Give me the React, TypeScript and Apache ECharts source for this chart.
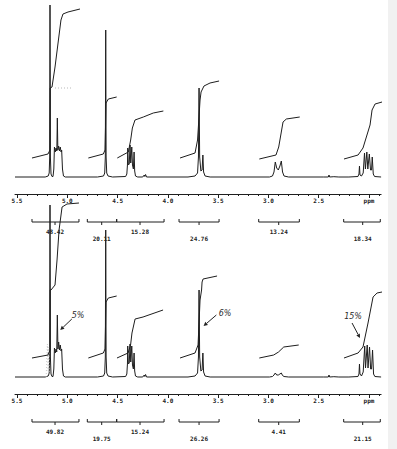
import React, { useEffect, useRef } from "react";
import * as echarts from "echarts";

// ---- axis ----
const majorTicks = [5.5, 5.0, 4.5, 4.0, 3.5, 3.0, 2.5, 2.0];
const tickLabels = ["5.5", "5.0", "4.5", "4.0", "3.5", "3.0", "2.5", "ppm"];
const minorTicks = [
  5.4, 5.3, 5.2, 5.1, 4.9, 4.8, 4.7, 4.6, 4.4, 4.3, 4.2, 4.1, 3.9, 3.8, 3.7, 3.6,
  3.4, 3.3, 3.2, 3.1, 2.9, 2.8, 2.7, 2.6, 2.4, 2.3, 2.2, 2.1, 1.9,
];

// ---- spectra [ppm, intensity] ----
const topSpectrum = [
  [5.52, 0], [5.22, 0], [5.19, 1], [5.18, 4], [5.175, 20], [5.172, 172], [5.168, 20], [5.162, 3], [5.152, 0.5],
  [5.142, 0.5], [5.134, 8], [5.128, 30], [5.12, 25], [5.112, 29], [5.104, 26], [5.099, 59], [5.094, 27],
  [5.086, 31], [5.078, 26], [5.07, 30], [5.062, 25], [5.056, 27], [5.048, 8], [5.038, 1], [5.02, 0],
  [4.7, 0], [4.64, 1], [4.628, 4], [4.622, 20], [4.618, 147], [4.614, 20], [4.608, 4], [4.595, 1], [4.55, 0],
  [4.42, 0.5], [4.408, 3], [4.402, 12], [4.399, 29], [4.393, 12], [4.384, 13], [4.376, 32], [4.369, 14],
  [4.364, 14], [4.359, 30], [4.352, 12], [4.343, 8], [4.336, 25], [4.33, 6], [4.322, 1], [4.3, 0],
  [4.25, 0], [4.235, 2], [4.229, 0.5], [4.222, 2.5], [4.212, 0],
  [3.8, 0], [3.73, 1], [3.705, 4], [3.696, 20], [3.69, 89], [3.684, 20], [3.672, 6], [3.66, 7], [3.652, 22],
  [3.645, 5], [3.63, 1], [3.58, 0],
  [2.99, 0], [2.96, 1], [2.945, 5], [2.932, 15], [2.918, 9], [2.902, 7], [2.886, 11], [2.872, 16], [2.86, 5],
  [2.845, 1], [2.8, 0],
  [2.45, 0], [2.405, 0], [2.398, 2], [2.392, 0], [2.35, 0.3], [2.3, 0],
  [2.2, 0], [2.11, 0.5], [2.1, 3], [2.095, 11], [2.09, 2], [2.075, 1], [2.058, 4], [2.045, 24], [2.036, 8],
  [2.03, 8], [2.022, 25], [2.012, 8], [2.005, 8], [1.997, 23], [1.985, 7], [1.975, 7], [1.968, 20],
  [1.958, 3], [1.945, 0.5], [1.88, 0],
];
const bottomSpectrum = [
  [5.52, 0], [5.22, 0], [5.19, 1], [5.18, 4], [5.175, 20], [5.172, 172], [5.168, 20], [5.162, 3], [5.152, 0.5],
  [5.142, 0.5], [5.134, 8], [5.128, 29], [5.12, 24], [5.112, 28], [5.105, 25], [5.099, 62], [5.093, 28],
  [5.086, 35], [5.078, 27], [5.07, 32], [5.062, 26], [5.056, 28], [5.048, 8], [5.038, 1], [5.02, 0],
  [4.7, 0], [4.64, 1], [4.628, 4], [4.622, 20], [4.618, 147], [4.614, 20], [4.608, 4], [4.595, 1], [4.55, 0],
  [4.42, 0.5], [4.408, 3], [4.402, 13], [4.399, 31], [4.393, 13], [4.384, 14], [4.376, 33], [4.369, 15],
  [4.364, 15], [4.359, 31], [4.352, 12], [4.343, 8], [4.336, 24], [4.33, 6], [4.322, 1], [4.3, 0],
  [4.25, 0], [4.235, 2], [4.229, 0.5], [4.222, 2.5], [4.212, 0],
  [3.8, 0], [3.73, 1], [3.705, 4], [3.696, 20], [3.69, 87], [3.684, 20], [3.672, 6], [3.66, 7], [3.652, 24],
  [3.645, 5], [3.63, 1], [3.58, 0],
  [2.99, 0], [2.96, 0.5], [2.945, 2], [2.932, 4], [2.918, 2], [2.902, 2], [2.886, 3], [2.872, 4], [2.86, 1.5],
  [2.845, 0.5], [2.8, 0],
  [2.45, 0], [2.405, 0], [2.398, 2], [2.392, 0], [2.35, 0.3], [2.3, 0],
  [2.2, 0], [2.11, 0.5], [2.1, 3], [2.095, 13], [2.09, 3], [2.075, 1], [2.058, 5], [2.043, 31], [2.035, 9],
  [2.028, 9], [2.018, 32], [2.01, 9], [2.003, 9], [1.995, 30], [1.984, 8], [1.975, 8], [1.965, 27],
  [1.955, 3], [1.942, 0.5], [1.88, 0],
];
// faint pencilled peak outline next to the tall singlet (bottom)
const bottomShadow = [[5.21, 0], [5.198, 33], [5.19, 6], [5.184, 30], [5.178, 0]];
// faint dotted reference line on the first integral (top)
const topDottedRef = [[5.122, 89], [4.963, 89]];

// ---- integral curves [ppm, height] ----
const topIntegrals = [
  [[5.351, 19], [5.192, 23], [5.172, 27], [5.17, 89], [5.152, 90], [5.122, 110], [5.092, 134], [5.063, 157], [5.043, 163], [4.993, 165], [4.874, 168]],
  [[4.791, 19], [4.642, 23], [4.625, 27], [4.615, 74], [4.592, 78], [4.509, 80]],
  [[4.503, 19], [4.393, 25], [4.37, 37], [4.353, 49], [4.327, 57], [4.244, 60], [4.145, 64], [4.045, 66]],
  [[3.879, 19], [3.73, 24], [3.705, 37], [3.68, 77], [3.67, 85], [3.641, 91], [3.581, 94], [3.491, 96]],
  [[3.091, 18], [2.925, 22], [2.898, 30], [2.855, 55], [2.822, 58], [2.689, 60]],
  [[2.249, 18], [2.109, 22], [2.06, 29], [1.99, 52], [1.97, 67], [1.94, 73], [1.871, 75]],
];
const bottomIntegrals = [
  [[5.351, 19], [5.192, 22], [5.172, 27], [5.17, 87], [5.162, 87], [5.122, 92], [5.102, 117], [5.082, 147], [5.052, 170], [5.003, 173], [4.884, 174]],
  [[4.791, 19], [4.642, 24], [4.625, 28], [4.615, 75], [4.592, 79], [4.509, 81]],
  [[4.506, 19], [4.396, 24], [4.371, 32], [4.357, 44], [4.326, 58], [4.247, 60], [4.048, 67]],
  [[3.879, 19], [3.73, 24], [3.7, 32], [3.68, 77], [3.665, 87], [3.66, 95], [3.65, 98], [3.511, 101]],
  [[3.091, 19], [2.948, 22], [2.9, 25], [2.848, 30], [2.699, 32]],
  [[2.249, 19], [2.109, 24], [2.06, 30], [2.01, 54], [1.96, 80], [1.92, 84], [1.871, 85]],
];

// ---- integration brackets [start ppm, end ppm, tick ppm] and their values ----
const bracketRanges = [
  [5.351, 4.884, 5.122],
  [4.801, 4.509, 4.658],
  [4.509, 4.038, 4.277],
  [3.889, 3.491, 3.69],
  [3.097, 2.693, 2.898],
  [2.252, 1.888, 2.063],
];
const topIntegralValues = ["48.42", "20.11", "15.28", "24.76", "13.24", "18.34"];
const bottomIntegralValues = ["49.82", "19.75", "15.24", "26.26", "4.41", "21.15"];

// ---- handwritten notes (bottom): [text ppm, text y, arrow tail ppm, tail y, tip ppm, tip y] ----
const noteTexts = ["5%", "6%", "15%"];
const notePositions = [
  [4.893, 62, 4.955, 58, 5.07, 47],
  [3.432, 64, 3.518, 62, 3.645, 51],
  [2.159, 61, 2.169, 54, 2.09, 39],
];

const X_MIN = 1.88;
const X_MAX = 5.52;
const Y_MIN = -17;
const Y_MAX = 177;
const INK = "#1e1e1e";
const LABEL_FONT = "DejaVu Sans Mono";
const LABEL_SIZE = 6;

export default function App() {
  const ref = useRef<HTMLDivElement>(null);
  useEffect(() => {
    if (!ref.current) return;
    const chart = echarts.init(ref.current, undefined, { renderer: "svg" });

    const fmt = (v: number) => {
      const i = majorTicks.findIndex((t) => Math.abs(t - v) < 1e-6);
      return i >= 0 ? tickLabels[i] : "";
    };

    const grids = [
      { left: 15, top: 0, width: 366.1, height: 194 },
      { left: 15, top: 200, width: 366.1, height: 194 },
    ];

    const xAxes: any[] = [];
    const yAxes: any[] = [];
    [0, 1].forEach((g) => {
      xAxes.push({
        type: "value", gridIndex: g, min: X_MIN, max: X_MAX, inverse: true, position: "bottom",
        axisLine: { show: true, onZero: false, lineStyle: { color: INK, width: 1 } },
        axisTick: { show: true, customValues: majorTicks, length: 4, inside: false, lineStyle: { color: INK, width: 1 } },
        axisLabel: {
          show: true, customValues: majorTicks, formatter: fmt, margin: 3,
          fontSize: LABEL_SIZE, fontWeight: "bold", fontFamily: LABEL_FONT, color: "#222",
        },
        splitLine: { show: false },
      });
      xAxes.push({
        type: "value", gridIndex: g, min: X_MIN, max: X_MAX, inverse: true, position: "bottom", offset: 0,
        axisLine: { show: false, onZero: false },
        axisTick: { show: true, customValues: minorTicks, length: 2, lineStyle: { color: INK, width: 1 } },
        axisLabel: { show: false },
        splitLine: { show: false },
      });
      yAxes.push({ type: "value", gridIndex: g, min: Y_MIN, max: Y_MAX, show: false, splitLine: { show: false } });
    });

    const BR_V = -45;
    const ROW_A = -54;
    const ROW_B = -61;
    const bracketRender = (labels: string[]) => (params: any, api: any) => {
      const s = api.value(0), e = api.value(1), t = api.value(2);
      const p1 = api.coord([s, BR_V]);
      const p2 = api.coord([e, BR_V]);
      const pt = api.coord([t, BR_V]);
      const pl = api.coord([t, params.dataIndex % 2 === 0 ? ROW_A : ROW_B]);
      return {
        type: "group",
        children: [
          {
            type: "polyline",
            shape: { points: [[p1[0], p1[1] - 3], [p1[0], p1[1]], [p2[0], p2[1]], [p2[0], p2[1] - 3]] },
            style: { stroke: INK, fill: "none", lineWidth: 1 },
          },
          { type: "line", shape: { x1: pt[0], y1: pt[1], x2: pt[0], y2: pt[1] + 3 }, style: { stroke: INK, lineWidth: 1 } },
          {
            type: "text", x: pl[0], y: pl[1],
            style: {
              text: labels[params.dataIndex], fontSize: LABEL_SIZE, fontWeight: "bold", fontFamily: LABEL_FONT,
              fill: "#222", align: "center", verticalAlign: "middle",
            },
          },
        ],
      };
    };

    const noteRender = (params: any, api: any) => {
      const tp = api.coord([api.value(0), api.value(1)]);
      const tail = api.coord([api.value(2), api.value(3)]);
      const tip = api.coord([api.value(4), api.value(5)]);
      const dx = tip[0] - tail[0], dy = tip[1] - tail[1];
      const L = Math.hypot(dx, dy) || 1;
      const ux = dx / L, uy = dy / L;
      const bx = tip[0] - ux * 4, by = tip[1] - uy * 4;
      return {
        type: "group",
        children: [
          { type: "line", shape: { x1: tail[0], y1: tail[1], x2: bx, y2: by }, style: { stroke: "#222", lineWidth: 1 } },
          {
            type: "polygon",
            shape: { points: [[tip[0], tip[1]], [bx - uy * 2, by + ux * 2], [bx + uy * 2, by - ux * 2]] },
            style: { fill: "#222" },
          },
          {
            type: "text", x: tp[0], y: tp[1],
            style: {
              text: noteTexts[params.dataIndex], fontSize: 8, fontStyle: "italic", fontFamily: "DejaVu Sans",
              fill: "#2a2a2a", align: "center", verticalAlign: "middle",
            },
          },
        ],
      };
    };

    const lineSeries = (data: number[][], g: number, lineStyle: any = {}) => ({
      type: "line", data, xAxisIndex: g * 2, yAxisIndex: g, symbol: "none", showSymbol: false,
      clip: false, silent: true, smooth: false,
      lineStyle: { color: INK, width: 1, ...lineStyle },
    });

    const series: any[] = [
      lineSeries(topSpectrum, 0),
      lineSeries(bottomSpectrum, 1),
      lineSeries(bottomShadow, 1, { color: "#bdbdbd", type: [1, 2], width: 0.8 }),
      lineSeries(topDottedRef, 0, { color: "#b8b8b8", type: [1, 2], width: 1 }),
      ...topIntegrals.map((c) => lineSeries(c, 0)),
      ...bottomIntegrals.map((c) => lineSeries(c, 1)),
      {
        type: "custom", xAxisIndex: 0, yAxisIndex: 0, clip: false, silent: true,
        data: bracketRanges, renderItem: bracketRender(topIntegralValues),
      },
      {
        type: "custom", xAxisIndex: 2, yAxisIndex: 1, clip: false, silent: true,
        data: bracketRanges, renderItem: bracketRender(bottomIntegralValues),
      },
      {
        type: "custom", xAxisIndex: 2, yAxisIndex: 1, clip: false, silent: true,
        data: notePositions, renderItem: noteRender,
      },
    ];

    chart.setOption({
      animation: false,
      backgroundColor: "#ffffff",
      grid: grids,
      xAxis: xAxes,
      yAxis: yAxes,
      series,
      graphic: [
        { type: "rect", shape: { x: 388, y: 0, width: 9, height: 449 }, style: { fill: "#f1f1f1" }, z: -10, silent: true },
      ],
    });
    return () => chart.dispose();
  }, []);

  return (
    <div
      ref={ref}
      style={{ position: "absolute", left: 0, top: 0, width: 397, height: 449, background: "#fff" }}
    />
  );
}
